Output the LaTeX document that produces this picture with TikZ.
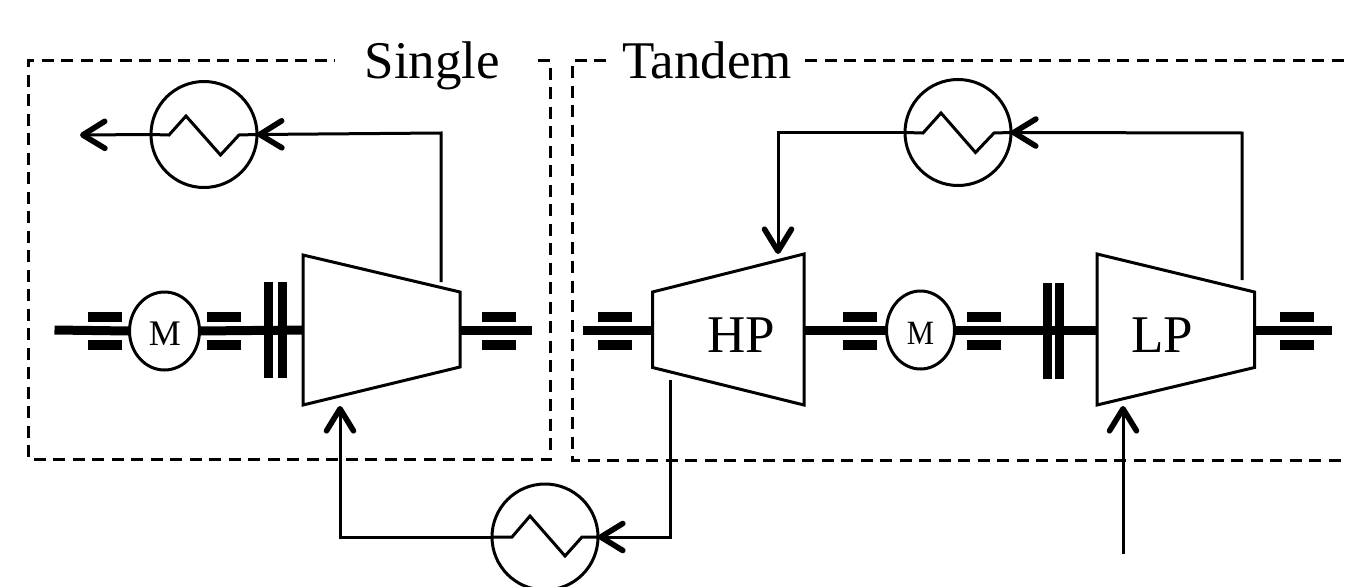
\documentclass[tikz,border=0pt]{standalone}
\usepackage{fontspec}
\setmainfont{Liberation Serif}
\usetikzlibrary{arrows.meta,shapes.geometric}
\tikzset{
  box/.style={draw=black,line width=2.7pt,dash pattern=on 12pt off 7.5pt},
  pipe/.style={draw=black,line width=3pt,line join=miter},
  flow/.style={pipe,-{Straight Barb[length=22pt,width=27pt,line width=5.6pt,round]}},
  machine/.style={draw=black,line width=3pt,fill=white,line join=miter},
  shaft/.style={draw=black,line width=9pt},
  bearing/.style={draw=none,fill=black,minimum width=34pt,minimum height=9.5pt,inner sep=0pt,outer sep=0pt},
  couplingbar/.style={draw=none,fill=black,minimum width=9pt,minimum height=96pt,inner sep=0pt,outer sep=0pt},
  hxc/.style={ellipse,draw=black,line width=3pt,minimum width=106pt,minimum height=106pt,inner sep=0pt,outer sep=0pt},
  motor/.style={ellipse,draw=black,line width=3pt,fill=white,minimum width=70pt,minimum height=78pt,inner sep=0pt,outer sep=0pt},
  big/.style={anchor=base,inner sep=0pt,font=\fontsize{53}{60}\selectfont},
}
\begin{document}
\begin{tikzpicture}[x=1pt,y=-1pt]
\useasboundingbox (0,0) rectangle (1348,586);
\clip (0,0) rectangle (1348,586);
% frames
\draw[box] (538,60.5) -- (550.5,60.5) -- (550.5,459.5) -- (28.5,459.5) -- (28.5,60.5) -- (335,60.5);
\draw[box] (606,60.5) -- (572.5,60.5) -- (572.5,460.5) -- (1348,460.5);
\draw[box] (805,60.5) -- (1348,60.5);
\node[big] (single) at (432.5,78) {Single};
\node[big] (tandem) at (707,78) {Tandem};
% single machine
\coordinate (s0) at (54.5,330);
\coordinate (s1) at (532,330);
\node[motor] (m1) at (164.5,331) {};
\node[anchor=base,inner sep=0pt,font=\fontsize{36}{40}\selectfont] (m1t) at (165,345) {M};
\coordinate (t1nw) at (303,255);
\coordinate (t1ne) at (460,292);
\coordinate (t1se) at (460,367);
\coordinate (t1sw) at (303,405);
\draw[shaft] (s0) -- (m1.west);
\draw[shaft] (m1.east) -- (t1nw |- s0);
\draw[shaft] (t1ne |- s1) -- (s1);
\node[bearing] (b1a) at (105,317) {};
\node[bearing] (b1b) at (105,345) {};
\node[bearing] (b1c) at (223.5,317) {};
\node[bearing] (b1d) at (223.5,345) {};
\node[bearing] (b1e) at (498.5,317) {};
\node[bearing] (b1f) at (498.5,345) {};
\node[couplingbar] (c1a) at (268.5,330) {};
\node[couplingbar] (c1b) at (282.5,330) {};
\draw[machine] (t1nw) -- (t1ne) -- (t1se) -- (t1sw) -- cycle;
% heat exchanger 1
\node[hxc] (hx1) at (204,134.5) {};
\coordinate (o1) at (80,135);
\coordinate (t1out) at (441,282);
\draw[pipe] (hx1.west) -- (169,135) -- (186,116) -- (220.5,155) -- (239,135) -- (hx1.east);
\draw[flow] (hx1.west) -- (o1);
\draw[flow] (t1out) -- (441,133) -- (hx1.east);
% tandem machines
\coordinate (s2) at (582.5,330);
\coordinate (s3) at (1331.5,330);
\node[motor,minimum width=68pt] (m2) at (920.5,330) {};
\node[anchor=base,inner sep=0pt,font=\fontsize{34}{40}\selectfont,xscale=.9] (m2t) at (920.5,344.5) {M};
\coordinate (hpsw) at (652.5,367.5);
\coordinate (hpnw) at (652.5,292);
\coordinate (hpne) at (804,254);
\coordinate (hpse) at (804,405);
\coordinate (lpnw) at (1097,254);
\coordinate (lpne) at (1254.5,292);
\coordinate (lpse) at (1254.5,367.5);
\coordinate (lpsw) at (1097,405);
\draw[shaft] (s2) -- (hpnw |- s2);
\draw[shaft] (hpne |- s2) -- (m2.west);
\draw[shaft] (m2.east) -- (lpnw |- s2);
\draw[shaft] (lpne |- s3) -- (s3);
\node[bearing] (b2a) at (614.5,317) {};
\node[bearing] (b2b) at (614.5,345) {};
\node[bearing] (b2c) at (860,317) {};
\node[bearing] (b2d) at (860,345) {};
\node[bearing] (b2e) at (984,317) {};
\node[bearing] (b2f) at (984,345) {};
\node[bearing] (b2g) at (1296.5,317) {};
\node[bearing] (b2h) at (1296.5,345) {};
\node[couplingbar] (c2a) at (1047,331) {};
\node[couplingbar] (c2b) at (1059,331) {};
\draw[machine] (hpnw) -- (hpne) -- (hpse) -- (hpsw) -- cycle;
\draw[machine] (lpnw) -- (lpne) -- (lpse) -- (lpsw) -- cycle;
\node[big] (hp) at (741.5,352) {HP};
\node[big] (lp) at (1162.5,352) {LP};
% heat exchanger 2
\node[hxc] (hx2) at (958,132.5) {};
\coordinate (lpout) at (1242,280);
\coordinate (hpin) at (778,254);
\draw[pipe] (hx2.west) -- (923,133) -- (941,113) -- (975.5,152.5) -- (994,133) -- (hx2.east);
\draw[flow] (lpout) -- (1242,133) -- (hx2.east);
\draw[flow] (hx2.west) -- (778,132.5) -- (hpin);
% heat exchanger 3
\node[hxc] (hx3) at (545,537) {};
\coordinate (hpout) at (670.5,380);
\coordinate (t1in) at (340,406);
\draw[pipe] (hx3.west) -- (512,537) -- (530,516) -- (565,556) -- (582,537) -- (hx3.east);
\draw[flow] (hpout) -- (670.5,537) -- (hx3.east);
\draw[flow] (hx3.west) -- (340,537) -- (t1in);
% LP inlet
\coordinate (lpsrc) at (1123,554);
\coordinate (lpin) at (1123,406);
\draw[flow] (lpsrc) -- (lpin);
\end{tikzpicture}
\end{document}
